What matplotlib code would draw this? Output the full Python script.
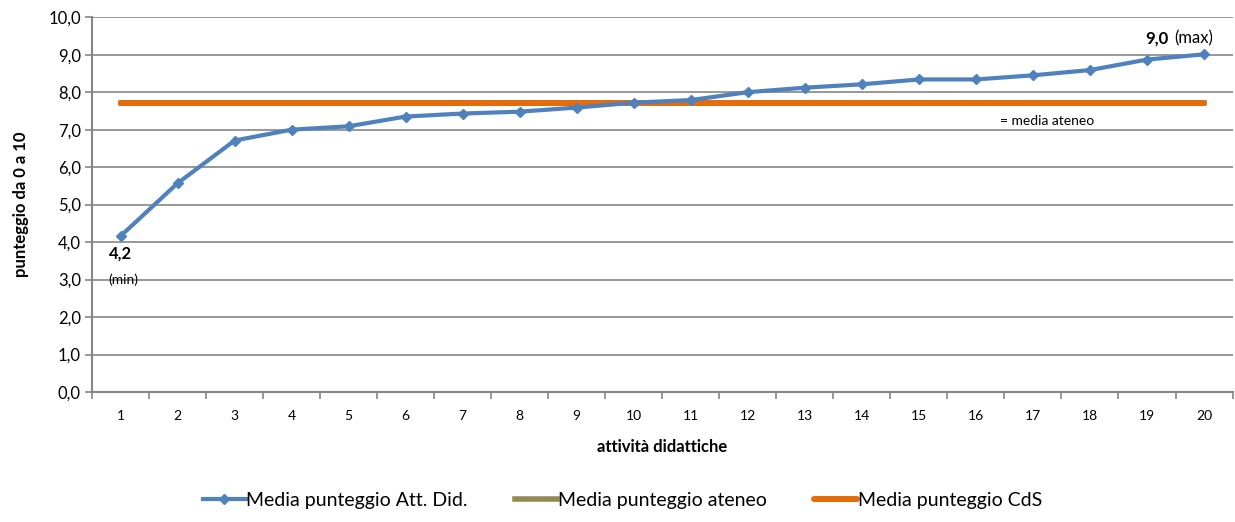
import numpy as np
import matplotlib
matplotlib.use('Agg')
import matplotlib.pyplot as plt
from matplotlib.ticker import FixedLocator, FuncFormatter

plt.rcParams['font.family'] = ['Lato', 'DejaVu Sans']

attivita = list(range(1, 21))
media_att = [4.16, 5.57, 6.71, 7.00, 7.09, 7.35, 7.43, 7.48, 7.59, 7.72,
             7.79, 8.00, 8.12, 8.21, 8.34, 8.34, 8.45, 8.59, 8.87, 9.01]
media_ateneo = [7.70] * 20
media_cds = [7.70] * 20

blue = '#4f81bd'
olive = '#948a54'
orange = '#e46c0a'
gray = '#868686'

fig = plt.figure(figsize=(12.35, 5.22), dpi=100)
ax = fig.add_axes([0.0745, 0.249, 0.9235, 0.718])

ax.plot(attivita, media_att, color=blue, lw=3, marker='D', ms=5,
        label='Media punteggio Att. Did.', zorder=4)
ax.plot(attivita, media_ateneo, color=olive, lw=4,
        label='Media punteggio ateneo', zorder=2)
ax.plot(attivita, media_cds, color=orange, lw=4.3, solid_capstyle='round',
        label='Media punteggio CdS', zorder=3)

ax.set_xlim(0.5, 20.5)
ax.set_ylim(0, 10)
ax.set_yticks(np.arange(0, 10.01, 1))
ax.yaxis.set_major_formatter(FuncFormatter(lambda v, p: f'{v:.1f}'.replace('.', ',')))
ax.set_xticks(attivita)
ax.xaxis.set_minor_locator(FixedLocator(np.arange(0.5, 20.6, 1)))
ax.tick_params(axis='x', which='major', length=0, labelsize=10, pad=13)
ax.tick_params(axis='x', which='minor', length=5, color=gray, width=1.2)
ax.tick_params(axis='y', length=5, color=gray, width=1.2, labelsize=12, pad=3)

ax.grid(axis='y', color=gray, lw=1.2)
ax.set_axisbelow(True)
for side in ['top', 'right']:
    ax.spines[side].set_visible(False)
for side in ['left', 'bottom']:
    ax.spines[side].set_color(gray)
    ax.spines[side].set_linewidth(1.5)

ax.set_xlabel('attività didattiche', fontsize=12, fontweight='bold', labelpad=12)
ax.set_ylabel('punteggio da 0 a 10', fontsize=12, fontweight='bold', labelpad=14)

# min / max labels
ax.text(attivita[0], media_att[0] - 0.25, '4,2', ha='center', va='top',
        fontsize=12, fontweight='bold')
ax.text(attivita[0] + 0.05, media_att[0] - 1.0, '(min)', ha='center', va='top', fontsize=10)
ax.text(19.37, media_att[-1] + 0.22, '9,0', ha='right', va='bottom',
        fontsize=12, fontweight='bold')
ax.text(19.47, media_att[-1] + 0.22, '(max)', ha='left', va='bottom', fontsize=12)
ax.text(17.25, media_cds[0] - 0.3, '= media ateneo', ha='center', va='top', fontsize=10)

ax.legend(loc='upper center', bbox_to_anchor=(0.465, -0.22), ncol=3, frameon=False,
          fontsize=14, handlelength=2.2, handletextpad=0.05, columnspacing=2.4)

fig.savefig('out.png', dpi=100)
